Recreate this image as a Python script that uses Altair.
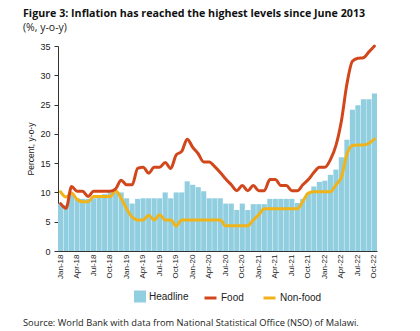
import altair as alt
import pandas as pd

# ---- data -------------------------------------------------------------
month_names = ["Jan", "Feb", "Mar", "Apr", "May", "Jun",
               "Jul", "Aug", "Sep", "Oct", "Nov", "Dec"]
months = [f"{m}-{y}" for y in range(18, 23) for m in month_names][:58]  # Jan-18 .. Oct-22
tick_labels = [m for m in months if m[:3] in ("Jan", "Apr", "Jul", "Oct")]

headline = [8.1, 7.8, 9.7, 9.0, 8.9, 8.9, 9.0, 9.1, 9.7, 10.0, 10.0, 10.0, 9.0, 8.1, 8.9,
            9.0, 9.0, 9.0, 9.0, 10.0, 9.0, 10.0, 10.0, 11.9, 11.3, 10.9, 10.2, 9.0, 9.0, 9.0,
            8.1, 8.1, 7.0, 8.1, 7.0, 8.0, 8.0, 8.0, 8.9, 8.9, 8.9, 8.9, 8.9, 8.2, 8.9,
            9.9, 11.0, 11.8, 12.0, 13.0, 13.9, 16.0, 19.0, 24.1, 24.9, 25.9, 25.9, 26.9]

food = [8.1, 7.3, 11.0, 10.2, 10.2, 9.3, 10.2, 10.2, 10.2, 10.2, 10.6, 12.1, 11.3, 11.3, 14.1,
        14.3, 13.3, 14.3, 14.3, 15.1, 14.1, 16.4, 17.0, 19.1, 17.7, 16.6, 15.2, 15.2, 14.4, 13.4,
        12.3, 11.3, 10.3, 11.2, 10.3, 11.2, 10.3, 10.3, 12.2, 12.2, 11.2, 11.2, 10.3, 10.3, 11.3,
        12.2, 13.4, 14.3, 14.3, 15.6, 18.0, 22.2, 28.5, 32.4, 32.9, 33.0, 34.0, 35.0]

nonfood = [10.1, 9.2, 9.9, 8.8, 8.4, 8.4, 9.3, 9.3, 9.3, 9.3, 10.3, 9.0, 7.2, 5.8, 5.3,
           5.3, 6.1, 5.3, 6.2, 5.3, 5.3, 4.3, 5.3, 5.3, 5.3, 5.3, 5.3, 5.3, 5.3, 5.3,
           4.3, 4.3, 4.3, 4.3, 4.3, 5.3, 6.2, 7.2, 7.2, 7.2, 7.2, 7.2, 7.2, 7.2, 8.5,
           9.9, 10.1, 10.1, 10.1, 10.1, 11.3, 12.6, 16.5, 18.0, 18.1, 18.1, 18.4, 19.1]

title_text = "Figure 3: Inflation has reached the highest levels since June 2013"
subtitle_text = "(%, y-o-y)"
source_text = "Source: World Bank with data from National Statistical Office (NSO) of Malawi."

# ---- styling ----------------------------------------------------------
NARROW = "Liberation Sans, Arial, sans-serif"
SANS = "Open Sans, Noto Sans, sans-serif"
BAR_COLOR = "#91CFE0"
FOOD_COLOR = "#D2461C"
NONFOOD_COLOR = "#F0B31A"
AXIS_COLOR = "#333333"
TEXT_COLOR = "#222222"

bar_df = pd.DataFrame({"month": months, "value": headline, "series": "Headline"})
line_df = pd.concat([
    pd.DataFrame({"month": months, "value": food, "series": "Food"}),
    pd.DataFrame({"month": months, "value": nonfood, "series": "Non-food"}),
])

x_enc = alt.X(
    "month:N", sort=months,
    scale=alt.Scale(paddingInner=0.07, paddingOuter=0),
    axis=alt.Axis(values=tick_labels, labelAngle=270, ticks=False, labelPadding=3,
                  title=None, labelFont=NARROW, labelFontSize=8, labelColor=TEXT_COLOR,
                  domainColor=AXIS_COLOR, labelOverlap=False),
)
y_enc = alt.Y(
    "value:Q",
    scale=alt.Scale(domain=[0, 35], nice=False),
    axis=alt.Axis(values=[0, 5, 10, 15, 20, 25, 30, 35], grid=False, tickSize=4,
                  tickColor=AXIS_COLOR, domainColor=AXIS_COLOR, labelPadding=4,
                  labelFont=NARROW, labelFontSize=9, labelColor=TEXT_COLOR,
                  title="Percent, y-o-y", titleFont=NARROW, titleFontSize=8.5,
                  titleFontWeight="normal", titleColor=TEXT_COLOR, titlePadding=4),
)

bars = alt.Chart(bar_df).mark_bar().encode(
    x=x_enc, y=y_enc,
    color=alt.Color("series:N",
                    scale=alt.Scale(domain=["Headline"], range=[BAR_COLOR]),
                    legend=alt.Legend(orient="none", legendX=76, legendY=244.5,
                                      title=None, symbolType="square", symbolSize=144,
                                      symbolStrokeWidth=0, labelFont=NARROW,
                                      labelFontSize=10, labelColor=TEXT_COLOR,
                                      labelOffset=3, padding=0)),
)

stroke_scale = alt.Scale(domain=["Food", "Non-food"], range=[FOOD_COLOR, NONFOOD_COLOR])
stroke_legend = alt.Legend(orient="none", legendX=145, legendY=244.5, title=None,
                           direction="horizontal", columns=2, columnPadding=13,
                           gridAlign="none",
                           symbolType="stroke", symbolSize=144, symbolStrokeWidth=3,
                           labelFont=NARROW, labelFontSize=10, labelColor=TEXT_COLOR,
                           labelOffset=3, padding=0)

line_nonfood = alt.Chart(line_df).transform_filter(alt.datum.series == "Non-food").mark_line(
    strokeWidth=3, interpolate="monotone", strokeCap="round", strokeJoin="round"
).encode(x=x_enc, y=y_enc, stroke=alt.Stroke("series:N", scale=stroke_scale, legend=stroke_legend))

line_food = alt.Chart(line_df).transform_filter(alt.datum.series == "Food").mark_line(
    strokeWidth=3, interpolate="monotone", strokeCap="round", strokeJoin="round"
).encode(x=x_enc, y=y_enc, stroke=alt.Stroke("series:N", scale=stroke_scale, legend=stroke_legend))

txt_df = pd.DataFrame({"title": [title_text], "subtitle": [subtitle_text], "source": [source_text]})

title = alt.Chart(txt_df).mark_text(
    align="left", baseline="alphabetic", font=SANS, fontSize=10.7, fontWeight="bold", color="#111111"
).encode(text="title:N", x=alt.value(-35), y=alt.value(-29.5))

subtitle = alt.Chart(txt_df).mark_text(
    align="left", baseline="alphabetic", font=SANS, fontSize=10.5, color=TEXT_COLOR
).encode(text="subtitle:N", x=alt.value(-35), y=alt.value(-15))

source = alt.Chart(txt_df).mark_text(
    align="left", baseline="alphabetic", font=SANS, fontSize=9.3, color=TEXT_COLOR
).encode(text="source:N", x=alt.value(-35), y=alt.value(279.5))

chart = alt.layer(bars, line_nonfood, line_food, title, subtitle, source).properties(
    width=319, height=205,
    padding={"left": 58, "top": 46, "right": 43, "bottom": 80},
    autosize=alt.AutoSizeParams(type="none"),
    background="white",
).configure_view(stroke=None)

chart.save("out.html", embed_options={"renderer": "svg", "actions": False})
